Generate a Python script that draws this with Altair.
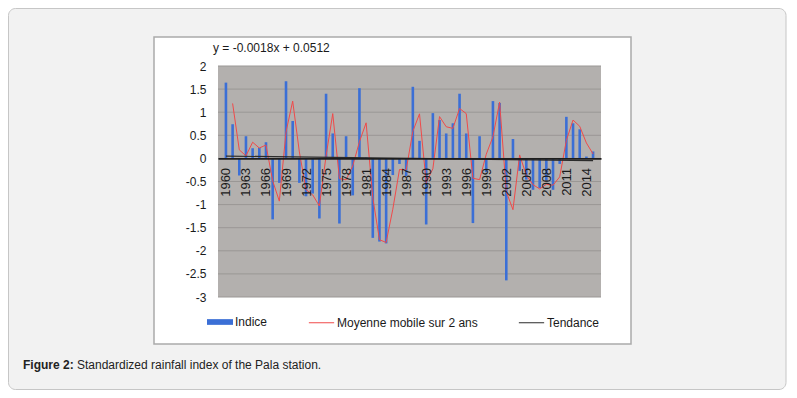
import altair as alt
import pandas as pd

# ---- data ----
years = list(range(1960, 2016))
indice = [1.64, 0.74, -0.37, 0.48, 0.22, 0.23, 0.35, -1.32, -0.53, 1.67,
          0.81, -0.53, -0.82, -0.76, -1.30, 1.40, 0.54, -1.41, 0.48, -0.80,
          1.52, 0.02, -1.72, -1.80, -1.84, -0.36, -0.12, -0.38, 1.55, 0.38,
          -1.43, 0.98, 0.83, 0.54, 0.76, 1.40, 0.54, -1.40, 0.48, -0.30,
          1.24, 1.20, -2.64, 0.42, -0.27, -0.46, -0.68, -0.64, -0.48, -0.68,
          -0.12, 0.90, 0.76, 0.63, 0.04, 0.15]
trend_years = [1960, 2015]
trend_values = [0.0494, -0.0496]
x_tick_years = list(range(1960, 2015, 3))
y_ticks = [2, 1.5, 1, 0.5, 0, -0.5, -1, -1.5, -2, -2.5, -3]
series_names = ["Indice", "Moyenne mobile sur 2 ans", "Tendance"]
equation_text = ["y = -0.0018x + 0.0512"]
caption_bold = ["Figure 2:"]
caption_text = ["Standardized rainfall index of the Pala station."]

W, H = 383, 231
FONT = "Liberation Sans"

df = pd.DataFrame({"year": years, "indice": indice})
trend_df = pd.DataFrame({"year": trend_years, "value": trend_values,
                         "series": [series_names[2]] * 2})
grid_df = pd.DataFrame({"v": y_ticks})
one = pd.DataFrame({"k": [0]})

xs = alt.Scale(domain=[1959.56, 2015.44], nice=False, zero=False)
ys = alt.Scale(domain=[-3, 2], nice=False, zero=False)

x_axis = alt.Axis(values=x_tick_years, format="d", labelAngle=270, labelAlign="right",
                  labelBaseline="middle", offset=-138.6, ticks=False, labelPadding=9,
                  domainColor="#1e1e1e", domainWidth=1.6, grid=False, title=None,
                  zindex=1, labelFontSize=13, labelColor="#1a1a1a", labelFont=FONT,
                  labelOverlap=False, labelFlush=False, labelBound=False)
y_axis = alt.Axis(values=y_ticks, labelExpr="toString(datum.value)", domain=False,
                  ticks=False, grid=False, labelPadding=12, title=None, zindex=1,
                  labelFontSize=12, labelColor="#1a1a1a", labelFont=FONT,
                  labelOverlap=False, labelFlush=False, labelBound=False)

X = lambda f: alt.X(f, scale=xs, axis=x_axis)
Y = lambda f: alt.Y(f, scale=ys, axis=y_axis)

fill_scale = alt.Scale(domain=[series_names[0]], range=["#3b6fd6"])
fill_legend = alt.Legend(title=None, orient="none", legendX=-11, legendY=243,
                         symbolType="M-1,-0.22H1V0.22H-1Z", symbolSize=676,
                         symbolStrokeWidth=0, labelFontSize=12, labelFont=FONT,
                         labelColor="#1a1a1a", labelOffset=2, zindex=1)
stroke_scale = alt.Scale(domain=series_names[1:], range=["#f04a4a", "#2b2b2b"])
stroke_legend = alt.Legend(title=None, orient="none", legendX=90, legendY=243,
                           direction="horizontal", symbolType="stroke", symbolSize=640,
                           symbolStrokeWidth=1, columnPadding=38, labelOffset=2,
                           labelFontSize=12, labelFont=FONT, labelColor="#1a1a1a",
                           zindex=1)

# ---- decorations ----
card = alt.Chart(one).mark_rect(cornerRadius=7, fill="#f2f2f2", stroke="#c6c6c6",
                                strokeWidth=1).encode(
    x=alt.value(-209.5), x2=alt.value(568), y=alt.value(-57.5), y2=alt.value(323.5))
white_box = alt.Chart(one).mark_rect(fill="#ffffff", stroke="#ababab",
                                     strokeWidth=1.5).encode(
    x=alt.value(-64), x2=alt.value(413), y=alt.value(-29), y2=alt.value(278))
plot_bg = alt.Chart(one).mark_rect(fill="#b3b0ae").encode(
    x=alt.value(0), x2=alt.value(W), y=alt.value(0), y2=alt.value(H))

grid = alt.Chart(grid_df).mark_rule(stroke="#9a9795", strokeWidth=1).encode(
    y=Y("v:Q"))

bars = alt.Chart(df).transform_calculate(series=f"'{series_names[0]}'").mark_bar(
    size=2.6).encode(
    x=X("year:Q"),
    y=Y("indice:Q"),
    y2=alt.datum(0),
    fill=alt.Fill("series:N", scale=fill_scale, legend=fill_legend))

ma = alt.Chart(df).transform_window(
    ma="mean(indice)", frame=[-1, 0], sort=[alt.SortField("year")]
).transform_filter("datum.year > 1960").transform_calculate(
    series=f"'{series_names[1]}'").mark_line(strokeWidth=1).encode(
    x=X("year:Q"),
    y=Y("ma:Q"),
    stroke=alt.Stroke("series:N", scale=stroke_scale, legend=stroke_legend))

trend = alt.Chart(trend_df).mark_line(strokeWidth=1.2).encode(
    x=X("year:Q"),
    y=Y("value:Q"),
    stroke=alt.Stroke("series:N", scale=stroke_scale, legend=stroke_legend))

eq = alt.Chart(pd.DataFrame({"t": equation_text})).mark_text(
    align="left", baseline="alphabetic", fontSize=12, font=FONT, color="#1a1a1a").encode(
    x=alt.value(-5), y=alt.value(-14), text="t:N")
cap1 = alt.Chart(pd.DataFrame({"t": caption_bold})).mark_text(
    align="left", baseline="alphabetic", fontSize=12, font=FONT, fontWeight="bold",
    color="#222222").encode(x=alt.value(-195), y=alt.value(303), text="t:N")
cap2 = alt.Chart(pd.DataFrame({"t": caption_text})).mark_text(
    align="left", baseline="alphabetic", fontSize=12, font=FONT,
    color="#222222").encode(x=alt.value(-141), y=alt.value(303), text="t:N")

chart = alt.layer(card, white_box, plot_bg, grid, bars, ma, trend, eq, cap1, cap2).properties(
    width=W, height=H,
    autosize=alt.AutoSizeParams(type="none"),
    padding={"left": 210, "top": 58, "right": 188, "bottom": 93},
).configure_view(stroke=None).configure_axis(labelOverlap=False).configure(
    background="#ffffff")

chart.save("out.html", embed_options={"renderer": "svg", "actions": False})
